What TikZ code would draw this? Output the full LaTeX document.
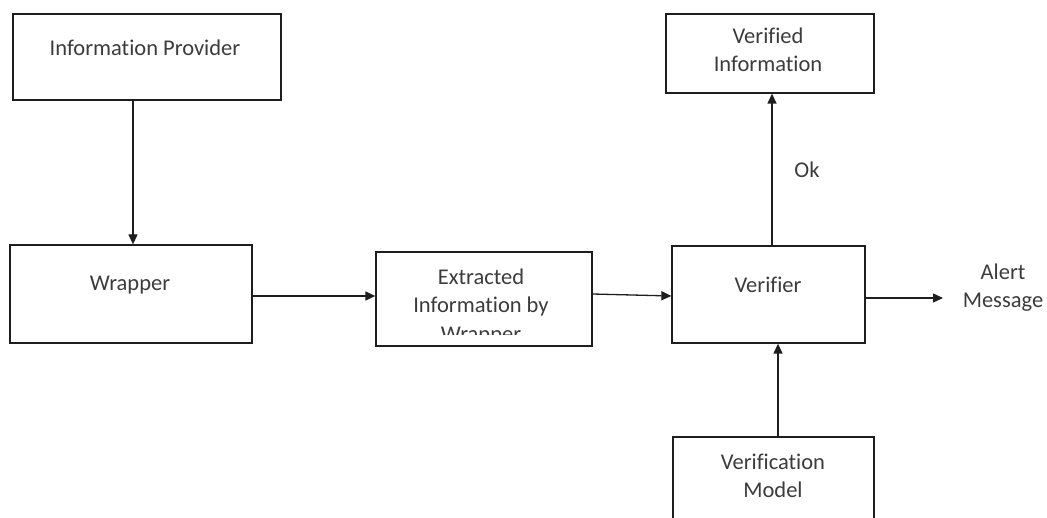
\documentclass[tikz,border=0pt]{standalone}
\usepackage{fontspec}
\setmainfont{Carlito}[Ligatures=NoCommon]
\usetikzlibrary{arrows.meta}
\definecolor{ink}{HTML}{1E1E1E}
\definecolor{txt}{HTML}{3C3C3C}
\tikzset{
  blk/.style={draw=ink, line width=1.3pt, rectangle, inner sep=0pt},
  lbl/.style={text=txt, font=\fontsize{22.5}{28}\selectfont, align=center, inner sep=0pt},
  arr/.style={draw=ink, line width=1.3pt, -{Triangle[length=10pt,width=9pt]}}
}
\begin{document}
\begin{tikzpicture}[x=1pt,y=-1pt]
\useasboundingbox (0,0) rectangle (1047,518);
\clip (0,0) rectangle (1047,518);
\fill[white] (0,0) rectangle (1047,518);

% boxes
\node[blk, minimum width=268pt, minimum height=86pt] (prov) at (147,57) {};
\node[blk, minimum width=242pt, minimum height=98pt] (wrap) at (131,294) {};
\node[blk, minimum width=216pt, minimum height=94pt] (extr) at (484,299) {};
\node[blk, minimum width=193pt, minimum height=97pt] (verf) at (768.5,294.5) {};
\node[blk, minimum width=208pt, minimum height=79pt] (vinfo) at (770,53.5) {};
\node[blk, minimum width=201pt, minimum height=110pt] (vmodel) at (773.5,492) {};

% box texts
\node[lbl] (provtxt) at (145,48) {Information Provider};
\node[lbl] (wraptxt) at (130,285) {Wrapper};
\begin{scope}
  % the last line runs past the text area and is cut off
  \clip (377,253) rectangle (591,335);
  \node[lbl, font=\fontsize{22.5}{28.5}\selectfont, anchor=north] (extrtxt) at (481,268.5) {Extracted\\Information by\\Wrapper};
\end{scope}
\node[lbl] (verftxt) at (768,285) {Verifier};
\node[lbl] (vinfotxt) at (768,50) {Verified\\Information};
\node[lbl] (vmodeltxt) at (773,476) {Verification\\Model};
\node[lbl] (alert) at (1003,288) {Alert\\Message};
\node[lbl] (ok) at (807,170) {Ok};
\coordinate (alertin) at (943,298);

% connectors
\draw[arr] ([xshift=-14pt]prov.south) -- ([xshift=-14pt]prov.south |- wrap.north);
\draw[arr] ([yshift=-2pt]wrap.east) -- ([yshift=-2pt]wrap.east -| extr.west);
\draw[arr] ([yshift=5pt]extr.east) -- ([yshift=-1.5pt]verf.west);
\draw[arr] ([xshift=2pt]vinfo.south |- verf.north) -- ([xshift=2pt]vinfo.south);
\draw[arr] (verf.east |- alertin) -- (alertin);
\draw[arr] ([xshift=4.5pt]vmodel.north) -- ([xshift=4.5pt]vmodel.north |- verf.south);
\end{tikzpicture}
\end{document}
